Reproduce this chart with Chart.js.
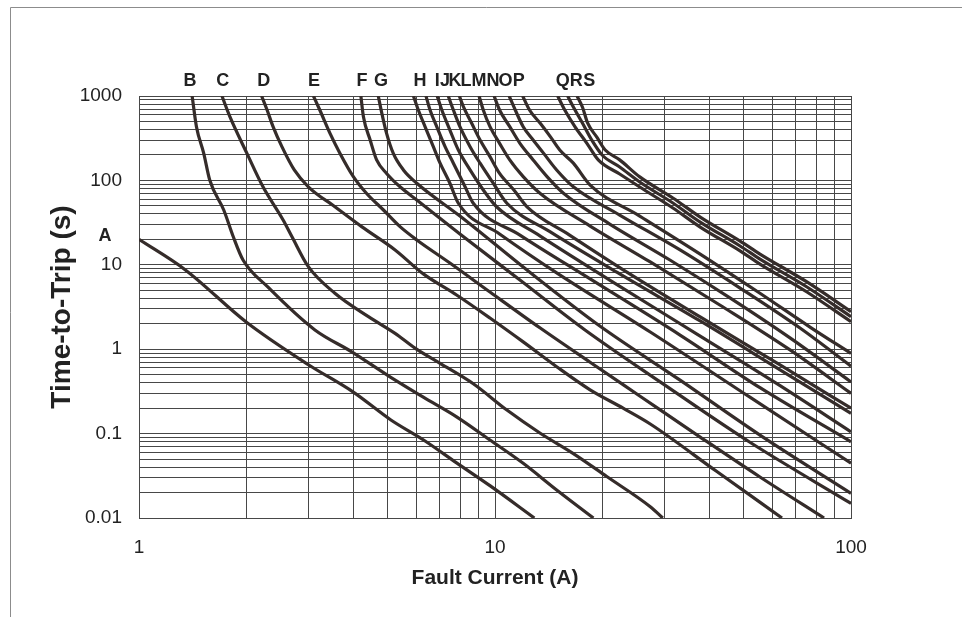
<!DOCTYPE html>
<html>
<head>
<meta charset="utf-8">
<title>Time-to-Trip curves</title>
<script src="https://cdn.jsdelivr.net/npm/chart.js@4.4.1/dist/chart.umd.min.js"></script>
<style>
  html, body { margin: 0; padding: 0; background: #fff; }
  #wrap { width: 962px; height: 617px; }
</style>
</head>
<body>
<div id="wrap"><canvas id="tcc" width="962" height="617"></canvas></div>
<script>
// fault current (A) / time-to-trip (s)
const currentA = [1, 1.35, 2, 3, 4, 5.1, 6.3, 7.8, 9.7, 12.9];
const timeA = [20, 8.7, 2.1, 0.65, 0.31, 0.145, 0.084, 0.045, 0.024, 0.01];
const currentB = [1.41, 1.45, 1.52, 1.58, 1.73, 1.84, 1.96, 2.3, 3.12, 3.96, 5.07, 6.29, 7.8, 9.68, 12.0, 14.9, 18.9];
const timeB = [1000, 433, 209, 101, 44.6, 21.5, 11.4, 5.46, 1.69, 0.93, 0.47, 0.27, 0.158, 0.084, 0.0445, 0.0215, 0.01];
const currentC = [1.71, 1.80, 2.01, 2.23, 2.54, 2.69, 2.99, 3.55, 4.41, 5.24, 5.96, 7.01, 8.69, 10.8, 13.4, 16.6, 20.6, 27.3, 29.6];
const timeC = [1000, 569, 209, 84, 34, 21.5, 9.5, 4.6, 2.43, 1.54, 1.03, 0.68, 0.39, 0.19, 0.101, 0.058, 0.031, 0.0136, 0.01];
const currentD = [2.21, 2.29, 2.38, 2.52, 2.73, 2.99, 3.55, 4.22, 5.24, 6.29, 7.8, 9.68, 12.0, 14.9, 18.5, 22.9, 27.3, 41.8, 64];
const timeD = [1000, 682, 433, 251, 133, 84, 48.7, 28.3, 15, 7.8, 4.39, 2.34, 1.22, 0.62, 0.33, 0.2, 0.13, 0.036, 0.01];
const currentE = [3.09, 3.22, 3.44, 3.67, 4.0, 4.36, 4.86, 5.41, 6.03, 7.47, 9.68, 13.4, 18.5, 25.5, 37.7, 55.5, 84];
const timeE = [1000, 682, 361, 209, 111, 70, 44.6, 28.3, 19.7, 10.5, 4.76, 1.78, 0.70, 0.279, 0.091, 0.0306, 0.01];
const currentF = [4.2, 4.27, 4.46, 4.65, 4.96, 5.41, 6.03, 7.97, 11.75, 17.9, 29.1, 52.0, 100];
const timeF = [1000, 569, 301, 175, 121, 84, 58.6, 23.2, 6.6, 1.69, 0.41, 0.079, 0.0149];
const currentG = [4.70, 4.81, 4.96, 5.18, 5.53, 6.03, 7.97, 12.5, 19.7, 33.1, 55.5, 100];
const timeG = [1000, 624, 361, 209, 133, 92.5, 37.8, 8.2, 1.88, 0.43, 0.096, 0.0196];
const currentH = [5.90, 6.09, 6.36, 6.71, 7.01, 7.47, 7.89, 10.3, 15.2, 27.3, 52.0, 100];
const timeH = [1000, 682, 433, 251, 160, 92.5, 53.6, 23.2, 7.6, 1.60, 0.27, 0.0445];
const currentI = [6.40, 6.57, 6.86, 7.24, 7.64, 8.24, 8.69, 11.75, 18.5, 33.1, 55.5, 100];
const timeI = [1000, 682, 433, 251, 160, 84, 53.6, 22.5, 6.8, 1.47, 0.35, 0.080];
const currentJ = [6.88, 7.09, 7.47, 7.89, 8.51, 9.27, 10.1, 13.4, 21.0, 37.7, 63.2, 100];
const timeJ = [1000, 682, 395, 229, 133, 77, 48.7, 21.9, 6.6, 1.43, 0.37, 0.105];
const currentK = [7.39, 7.64, 7.97, 8.51, 9.08, 9.89, 10.8, 14.3, 22.4, 37.7, 63.2, 100];
const timeK = [1000, 682, 433, 251, 160, 92.5, 53.6, 24.5, 7.8, 2.16, 0.57, 0.174];
const currentL = [7.94, 8.15, 8.60, 9.08, 9.68, 10.3, 11.3, 12.3, 16.2, 23.9, 37.7, 63.2, 100];
const timeL = [1000, 747, 475, 301, 191, 121, 77, 48.7, 22.5, 7.8, 2.41, 0.65, 0.20];
const currentM = [9.02, 9.27, 9.68, 10.3, 11.0, 12.0, 13.4, 18.5, 27.3, 42.8, 67.4, 100];
const timeM = [1000, 682, 433, 275, 175, 111, 70, 28.8, 10.8, 3.34, 0.98, 0.30];
const currentN = [9.94, 10.3, 11.0, 11.75, 12.8, 14.0, 15.6, 21.0, 31.0, 45.7, 67.4, 100];
const timeN = [1000, 682, 433, 275, 175, 111, 70, 30.4, 11.4, 4.05, 1.36, 0.41];
const currentO = [10.96, 11.4, 12.0, 12.8, 13.7, 14.9, 16.6, 22.4, 33.1, 48.8, 71.9, 100];
const timeO = [1000, 682, 433, 301, 209, 133, 84, 38.9, 15.0, 5.3, 1.78, 0.63];
const currentP = [11.96, 12.5, 13.4, 14.3, 15.2, 16.6, 18.5, 25.5, 37.7, 55.5, 76.7, 100];
const timeP = [1000, 682, 475, 330, 229, 160, 88, 37.8, 13.4, 4.6, 1.83, 0.89];
const currentQ = [15.0, 15.7, 16.8, 18.1, 19.5, 22.4, 25.5, 31.6, 37.7, 48.8, 55.5, 75.2, 100];
const timeQ = [1000, 682, 429, 277, 175, 119, 83.5, 47.1, 28.0, 14.6, 10.2, 4.76, 2.12];
const currentR = [16.0, 16.6, 17.6, 18.7, 20.0, 22.4, 25.5, 31.6, 37.7, 48.8, 55.5, 75.2, 100];
const timeR = [1000, 741, 479, 301, 200, 144, 95.7, 54, 32.1, 16.7, 11.7, 5.46, 2.43];
const currentS = [17.0, 17.6, 18.2, 19.3, 20.4, 22.4, 25.5, 31.6, 37.7, 48.8, 55.5, 75.2, 100];
const timeS = [1000, 741, 479, 327, 229, 175, 110, 61.9, 36.8, 19.1, 13.4, 6.26, 2.78];

// letters written over the top of the grid, and where they sit on the current axis
const topLetters = ['B', 'C', 'D', 'E', 'F', 'G', 'H', 'I', 'J', 'K', 'L', 'M', 'N', 'O', 'P', 'Q', 'R', 'S'];
const topLetterAt = [1.39, 1.72, 2.24, 3.10, 4.23, 4.78, 6.16, 6.88, 7.24, 7.72, 8.29, 9.02, 9.87, 10.7, 11.66, 15.5, 16.9, 18.4];
const letterAAt = 22;   // time value level of the "A" tag on the left

const xTickLabels = [1, 10, 100];
const yTickLabels = [0.01, 0.1, 1, 10, 100, 1000];

const inkColour = '#352c2a';
const gridColour = '#474747';
const textColour = '#222';
const fontFamily = '"Liberation Sans", Arial, Helvetica, sans-serif';

var curves = [
  ['A', currentA, timeA], ['B', currentB, timeB], ['C', currentC, timeC], ['D', currentD, timeD],
  ['E', currentE, timeE], ['F', currentF, timeF], ['G', currentG, timeG], ['H', currentH, timeH],
  ['I', currentI, timeI], ['J', currentJ, timeJ], ['K', currentK, timeK], ['L', currentL, timeL],
  ['M', currentM, timeM], ['N', currentN, timeN], ['O', currentO, timeO], ['P', currentP, timeP],
  ['Q', currentQ, timeQ], ['R', currentR, timeR], ['S', currentS, timeS]
];

// 1..9 of every decade, log paper style
function gridValues(labels){
  var out = [];
  for(let i = 0; i < labels.length - 1; i++)
    for(let k = 1; k <= 9; k++) out.push(k * labels[i]);
  out.push(labels[labels.length - 1]);
  return out;
}

var letterPlugin = {
  id: 'letters',
  afterDraw(chart){
    const ctx = chart.ctx, area = chart.chartArea;
    const x = chart.scales.x, y = chart.scales.y;
    ctx.save();
    ctx.fillStyle = textColour;
    ctx.font = 'bold 18px ' + fontFamily;
    ctx.textAlign = 'center';
    ctx.textBaseline = 'middle';
    topLetters.forEach(function(t, i){
      ctx.fillText(t, x.getPixelForValue(topLetterAt[i]), area.top - 15);
    });
    ctx.fillText('A', area.left - 34, y.getPixelForValue(letterAAt));
    // page frame (left and top edges only)
    ctx.strokeStyle = '#8c8c8c';
    ctx.lineWidth = 1;
    ctx.beginPath();
    ctx.moveTo(10.5, chart.height);
    ctx.lineTo(10.5, 7.5);
    ctx.lineTo(chart.width, 7.5);
    ctx.stroke();
    ctx.restore();
  }
};

new Chart(document.getElementById('tcc').getContext('2d'), {
  type: 'line',
  data: {
    datasets: curves.map(function(c){
      return {
        label: c[0],
        data: c[1].map(function(v, i){ return {x: v, y: c[2][i]}; }),
        borderColor: inkColour,
        borderWidth: 3.2,
        pointRadius: 0,
        cubicInterpolationMode: 'monotone',
        fill: false
      };
    })
  },
  options: {
    responsive: false,
    animation: false,
    layout: { padding: { left: 0, top: 96, right: 111, bottom: 0 } },
    plugins: { legend: { display: false }, tooltip: { enabled: false } },
    scales: {
      x: {
        type: 'logarithmic', min: 1, max: 100,
        afterBuildTicks: function(s){ s.ticks = gridValues(xTickLabels).map(function(v){ return {value: v}; }); },
        afterFit: function(s){ s.height = 99; },
        grid: { color: gridColour, lineWidth: 1, drawTicks: false },
        border: { color: gridColour, width: 1 },
        ticks: {
          autoSkip: false, maxRotation: 0, padding: 18, color: textColour,
          font: { family: fontFamily, size: 19 },
          callback: function(v){ return xTickLabels.includes(v) ? String(v) : ''; }
        },
        title: {
          display: true, text: 'Fault Current (A)', color: textColour,
          font: { family: fontFamily, size: 21, weight: 'bold' },
          padding: { top: 0, bottom: 26 }
        }
      },
      y: {
        type: 'logarithmic', min: 0.01, max: 1000,
        afterBuildTicks: function(s){ s.ticks = gridValues(yTickLabels).map(function(v){ return {value: v}; }); },
        afterFit: function(s){ s.width = 139; },
        grid: { color: gridColour, lineWidth: 1, drawTicks: false },
        border: { color: gridColour, width: 1 },
        ticks: {
          autoSkip: false, padding: 17, color: textColour,
          font: { family: fontFamily, size: 19 },
          callback: function(v){ return yTickLabels.includes(v) ? String(v) : ''; }
        },
        title: {
          display: true, text: 'Time-to-Trip (s)', color: textColour,
          font: { family: fontFamily, size: 28, weight: 'bold' },
          padding: { top: 45, bottom: 0 }
        }
      }
    }
  },
  plugins: [letterPlugin]
});
</script>
</body>
</html>
